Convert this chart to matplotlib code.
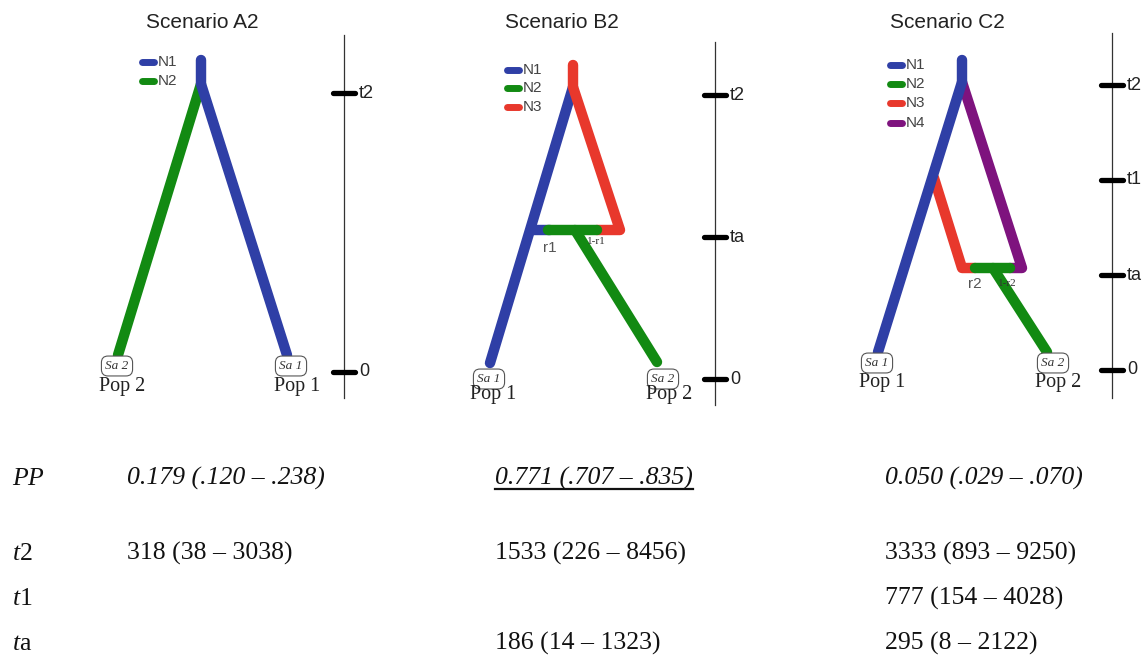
import matplotlib
matplotlib.use('Agg')
import matplotlib.pyplot as plt

plt.rcParams['mathtext.fontset'] = 'custom'
plt.rcParams['mathtext.rm'] = 'Liberation Serif'
plt.rcParams['mathtext.it'] = 'Liberation Serif:italic'

BLUE = '#2f3fa6'
GREEN = '#128a12'
RED = '#e8382c'
PURPLE = '#7e137e'

# ── diagram data (picture pixel coords, y down) ─────────────────────────────
titles = ['Scenario A2', 'Scenario B2', 'Scenario C2']
title_x = [202, 562, 947]

legend_names = [['N1', 'N2'], ['N1', 'N2', 'N3'], ['N1', 'N2', 'N3', 'N4']]
legend_cols = [[BLUE, GREEN], [BLUE, GREEN, RED], [BLUE, GREEN, RED, PURPLE]]
legend_x0 = [142, 507, 890]
legend_y = [[62, 81], [70, 88, 107], [65, 84, 103, 123]]

# branches drawn in order: (colour, xs, ys)
branches = [
    [(GREEN, [201, 118], [84, 355]),
     (BLUE, [201, 201, 287], [60, 84, 355])],
    [(BLUE, [573, 490], [87, 363]),
     (BLUE, [531, 550], [230, 230]),
     (RED, [573, 573, 620, 597], [65, 87, 230, 230]),
     (GREEN, [548, 597], [230, 230]),
     (GREEN, [575, 657], [230, 362])],
    [(RED, [934, 962, 975], [178, 268, 268]),
     (PURPLE, [962, 1022, 1010], [82, 268, 268]),
     (BLUE, [962, 962, 878], [60, 82, 352]),
     (GREEN, [975, 1010], [268, 268]),
     (GREEN, [993, 1047], [268, 352])],
]

admix_labels = [[], [('r1', 550, 248), ('1-r1', 596, 241)],
                [('r2', 975, 284), ('1-r2', 1007, 284)]]

samples = [[('Sa 2', 117, 366, 'Pop 2', 122, 387), ('Sa 1', 291, 366, 'Pop 1', 297, 387)],
           [('Sa 1', 489, 379, 'Pop 1', 493, 394), ('Sa 2', 663, 379, 'Pop 2', 669, 394)],
           [('Sa 1', 877, 363, 'Pop 1', 882, 382), ('Sa 2', 1053, 363, 'Pop 2', 1058, 382)]]

axis_x = [344, 715, 1112]
axis_top = [35, 42, 33]
axis_bottom = [398, 405, 398]
tick_names = [['t2', '0'], ['t2', 'ta', '0'], ['t2', 't1', 'ta', '0']]
tick_y = [[93, 372], [95, 237, 379], [85, 180, 275, 370]]

# ── table data ──────────────────────────────────────────────────────────────
row_labels = [r'$\mathit{PP}$', r'$\mathit{t}\mathrm{2}$', r'$\mathit{t}\mathrm{1}$', r'$\mathit{t}\mathrm{a}$']
row_y = [485, 560, 605, 650]
col_x = [127, 495, 885]
pp_vals = ['0.179 (.120 – .238)', '0.771 (.707 – .835)', '0.050 (.029 – .070)']
t2_vals = ['318 (38 – 3038)', '1533 (226 – 8456)', '3333 (893 – 9250)']
t1_vals = ['', '', '777 (154 – 4028)']
ta_vals = ['', '186 (14 – 1323)', '295 (8 – 2122)']
best = 1

W, H = 1148, 655
fig = plt.figure(figsize=(W / 100, H / 100), dpi=100)
ax = fig.add_axes([0, 0, 1, 1])
ax.set_xlim(0, W)
ax.set_ylim(H, 0)
ax.axis('off')

for i in range(3):
    ax.text(title_x[i], 23, titles[i], ha='center', va='center',
            fontsize=15, family='Liberation Sans', color='#222222')

    # legend
    for name, col, y in zip(legend_names[i], legend_cols[i], legend_y[i]):
        ax.plot([legend_x0[i], legend_x0[i] + 12], [y, y], color=col, lw=5,
                solid_capstyle='round')
        ax.text(legend_x0[i] + 16, y, name, ha='left', va='center',
                fontsize=11, family='Liberation Sans', color='#444444')

    # tree
    for col, xs, ys in branches[i]:
        ax.plot(xs, ys, color=col, lw=7.5, solid_capstyle='round',
                solid_joinstyle='round')

    for txt, x, y in admix_labels[i]:
        if txt.startswith('r'):
            ax.text(x, y, txt, ha='center', va='center', fontsize=11,
                    family='Liberation Sans', color='#555555')
        else:
            ax.text(x, y, txt, ha='center', va='center', fontsize=8,
                    family='Liberation Serif', color='#333333')

    # samples
    for sa, sx, sy, pop, px, py in samples[i]:
        ax.text(sx, sy, sa, ha='center', va='center', fontsize=9.5,
                family='Liberation Serif', style='italic', color='#333333',
                bbox=dict(boxstyle='round,pad=0.3,rounding_size=0.5',
                          fc='white', ec='#555555', lw=0.8))
        ax.text(px, py, pop, ha='center', va='center', fontsize=14.5,
                family='Liberation Serif', color='#222222')

    # time axis
    ax.plot([axis_x[i], axis_x[i]], [axis_top[i], axis_bottom[i]],
            color='#333333', lw=0.9)
    for name, y in zip(tick_names[i], tick_y[i]):
        ax.plot([axis_x[i] - 11, axis_x[i] + 11], [y, y], color='black',
                lw=3.8, solid_capstyle='round')
        ax.text(axis_x[i] + 15, y, name, ha='left', va='center',
                fontsize=13, family='Liberation Sans', color='#222222')

# table
for lab, y in zip(row_labels, row_y):
    ax.text(12, y, lab, ha='left', va='baseline', fontsize=18.5, color='#111111')

pp_texts = []
for x, v in zip(col_x, pp_vals):
    pp_texts.append(ax.text(x, row_y[0], v, ha='left', va='baseline',
                            fontsize=18.5, family='Liberation Serif',
                            style='italic', color='#111111'))
for vals, y in zip([t2_vals, t1_vals, ta_vals], row_y[1:]):
    for x, v in zip(col_x, vals):
        if v:
            ax.text(x, y, v, ha='left', va='baseline', fontsize=18.5,
                    family='Liberation Serif', color='#111111')

# underline the best-supported scenario
fig.canvas.draw()
bb = pp_texts[best].get_window_extent().transformed(ax.transData.inverted())
ax.plot([bb.x0, bb.x1], [row_y[0] + 4, row_y[0] + 4], color='#111111', lw=1.6)

fig.savefig('out.png', dpi=100)
